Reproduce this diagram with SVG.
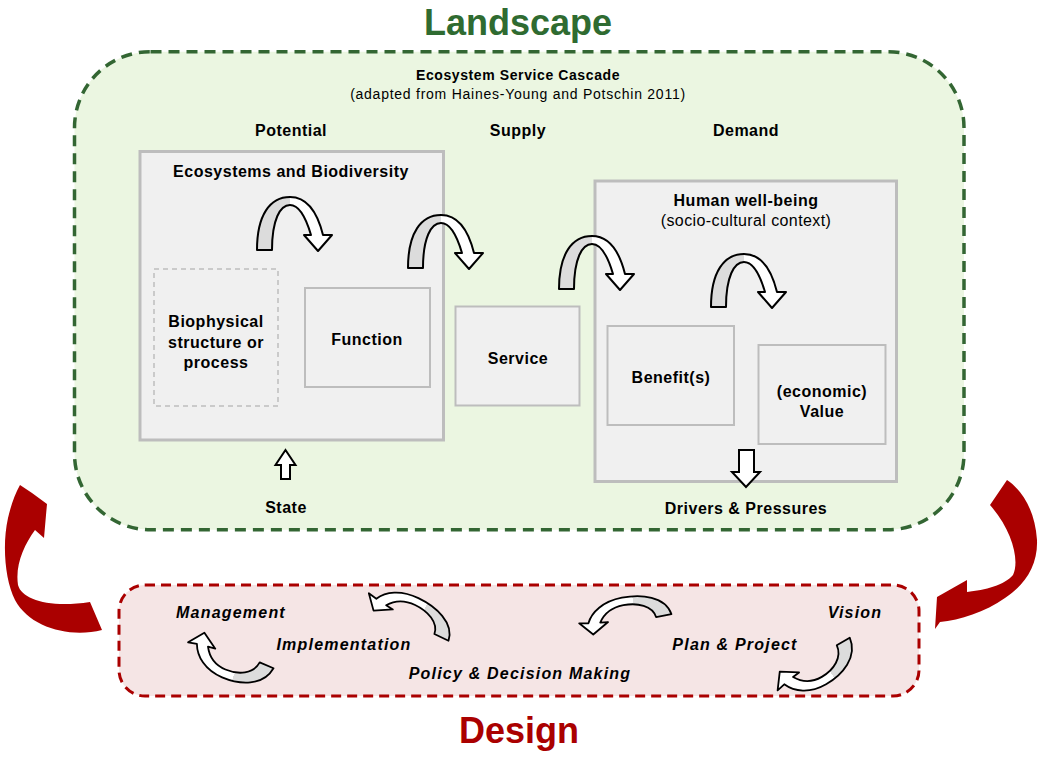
<svg xmlns="http://www.w3.org/2000/svg" xmlns:xlink="http://www.w3.org/1999/xlink" width="1041" height="757" viewBox="0 0 1041 757">
<style>
.lbl{font-family:"Liberation Sans",Arial,sans-serif;font-size:16px;font-weight:bold;fill:#000;text-anchor:middle;letter-spacing:0.5px}
.reg{font-family:"Liberation Sans",Arial,sans-serif;font-size:16px;fill:#000;text-anchor:middle;letter-spacing:0.4px}
.cas{font-family:"Liberation Sans",Arial,sans-serif;font-size:14px;font-weight:bold;fill:#000;text-anchor:middle;letter-spacing:0.6px}
.casr{font-family:"Liberation Sans",Arial,sans-serif;font-size:14px;fill:#000;text-anchor:middle;letter-spacing:0.75px}
.it{font-family:"Liberation Sans",Arial,sans-serif;font-size:16px;font-weight:bold;font-style:italic;fill:#000;text-anchor:middle;letter-spacing:1.2px}
.big{font-family:"Liberation Sans",Arial,sans-serif;font-size:36px;font-weight:bold;text-anchor:middle}
.box{fill:#f0f0f0;stroke:#bdbdbd;stroke-width:3}
.sbox{fill:#f0f0f0;stroke:#bdbdbd;stroke-width:2}
.block{fill:#fff;stroke:#000;stroke-width:2;stroke-linejoin:miter}
.red{fill:#aa0000}
</style>
<defs>
<linearGradient id="gArch" x1="0" y1="0" x2="1" y2="0">
<stop offset="0" stop-color="#dcdcdc"/><stop offset="0.44" stop-color="#dcdcdc"/><stop offset="0.44" stop-color="#ffffff"/><stop offset="1" stop-color="#ffffff"/>
</linearGradient>
<linearGradient id="gFlat" x1="0" y1="0" x2="1" y2="0">
<stop offset="0" stop-color="#dcdcdc"/><stop offset="0.38" stop-color="#dcdcdc"/><stop offset="0.38" stop-color="#ffffff"/><stop offset="1" stop-color="#ffffff"/>
</linearGradient>
<path id="arch" d="M 0 53 C 0 18 13 0 33 0 C 51 0 61 18 66 38 L 75 38 L 61 54 L 47 38 L 54 38 C 49 21 42 8 33 8 C 23 8 15 23 15 53 Z" fill="url(#gArch)" stroke="#000" stroke-width="2" stroke-linejoin="round"/>
<path id="flat" d="M 0 30 C 2 8 20 0 35 0 C 50 0 60 10 64 22 L 71 20 L 62 36 L 49 25 L 55 24 C 51 15 44 9 35 9 C 24 9 13 16 12 30 Z" fill="url(#gFlat)" stroke="#000" stroke-width="1.8" stroke-linejoin="round" vector-effect="non-scaling-stroke"/>
</defs>

<g id="landscape">
<rect x="74.5" y="51.7" width="889.5" height="478" rx="76" ry="76" fill="#ebf6e1" stroke="#336633" stroke-width="3.5" stroke-dasharray="11 7"/>
<text class="big" x="518" y="35" fill="#2f6b31">Landscape</text>
<text class="cas" x="518" y="80">Ecosystem Service Cascade</text>
<text class="casr" x="518" y="99">(adapted from Haines-Young and Potschin 2011)</text>
<text class="lbl" x="291" y="136">Potential</text>
<text class="lbl" x="518" y="136">Supply</text>
<text class="lbl" x="746" y="136">Demand</text>
<text class="lbl" x="286" y="513">State</text>
<text class="lbl" x="746" y="514">Drivers &amp; Pressures</text>
</g>

<g id="ecosystems">
<rect class="box" x="140" y="151.5" width="303.5" height="288.5"/>
<text class="lbl" x="291" y="177">Ecosystems and Biodiversity</text>
</g>

<g id="biophysical">
<rect x="154" y="269" width="124" height="137" fill="#f0f0f0" stroke="#bdbdbd" stroke-width="1.5" stroke-dasharray="5 4"/>
<text class="lbl" x="216" y="327">Biophysical</text>
<text class="lbl" x="216" y="348">structure or</text>
<text class="lbl" x="216" y="368">process</text>
</g>

<g id="function">
<rect class="sbox" x="305" y="288" width="125" height="99"/>
<text class="lbl" x="367" y="345">Function</text>
</g>

<g id="service">
<rect class="sbox" x="455.5" y="306.5" width="124" height="99"/>
<text class="lbl" x="518" y="364">Service</text>
</g>

<g id="wellbeing">
<rect class="box" x="595" y="181" width="301.5" height="300.5"/>
<text class="lbl" x="746" y="206">Human well-being</text>
<text class="reg" x="746" y="226">(socio-cultural context)</text>
</g>

<g id="benefits">
<rect class="sbox" x="607.5" y="326" width="126.5" height="99"/>
<text class="lbl" x="671" y="383">Benefit(s)</text>
</g>

<g id="value">
<rect class="sbox" x="758.5" y="345" width="127" height="99"/>
<text class="lbl" x="822" y="397">(economic)</text>
<text class="lbl" x="822" y="417">Value</text>
</g>

<g id="design">
<rect x="119" y="585" width="800" height="111" rx="26" ry="26" fill="#f5e5e5" stroke="#aa0000" stroke-width="3" stroke-dasharray="10 6"/>
<text class="big" x="519" y="743" fill="#aa0000">Design</text>
<text class="it" x="231" y="618">Management</text>
<text class="it" x="344" y="650">Implementation</text>
<text class="it" x="520" y="679">Policy &amp; Decision Making</text>
<text class="it" x="735" y="650">Plan &amp; Project</text>
<text class="it" x="855" y="618">Vision</text>
</g>

<g id="connectors">
<use xlink:href="#arch" href="#arch" transform="translate(257,197)"/>
<use xlink:href="#arch" href="#arch" transform="translate(408,215)"/>
<use xlink:href="#arch" href="#arch" transform="translate(559,236)"/>
<use xlink:href="#arch" href="#arch" transform="translate(711,254)"/>
<polygon class="block" points="285.5,450 295.5,465 290,465 290,479 281,479 281,465 275.5,465"/>
<polygon class="block" points="739,450 754,450 754,472 760,472 746,487 732,472 739,472"/>
<use xlink:href="#flat" href="#flat" transform="translate(235.5,649) rotate(203) scale(1.25,0.95) translate(-34,-33)"/>
<use xlink:href="#flat" href="#flat" transform="translate(407.5,624) rotate(25.5) scale(-1.3,0.85) translate(-34,-33)"/>
<use xlink:href="#flat" href="#flat" transform="translate(628.5,625) rotate(-11) scale(-1.3,0.85) translate(-34,-33)"/>
<use xlink:href="#flat" href="#flat" transform="translate(811.5,656.5) rotate(150) scale(1.25,0.95) translate(-34,-33)"/>
<path class="red" d="M 20 485 L 32 493 L 47 504 L 46 515 L 44 538 L 35 530 C 24 545 15 565 18 585 C 22 600 50 608 90 602 L 102 630 C 70 638 30 628 15 600 C 5 580 2 545 8 518 C 11 505 15 494 20 485 Z"/>
<path class="red" d="M 1007 480 C 1022 490 1035 510 1037 540 C 1038 565 1025 585 1005 598 C 985 612 960 620 940 622 L 935 629 L 937 597 L 967 580 L 967 592 C 985 590 1005 585 1013 575 C 1020 560 1012 530 990 505 Z"/>
</g>
</svg>
